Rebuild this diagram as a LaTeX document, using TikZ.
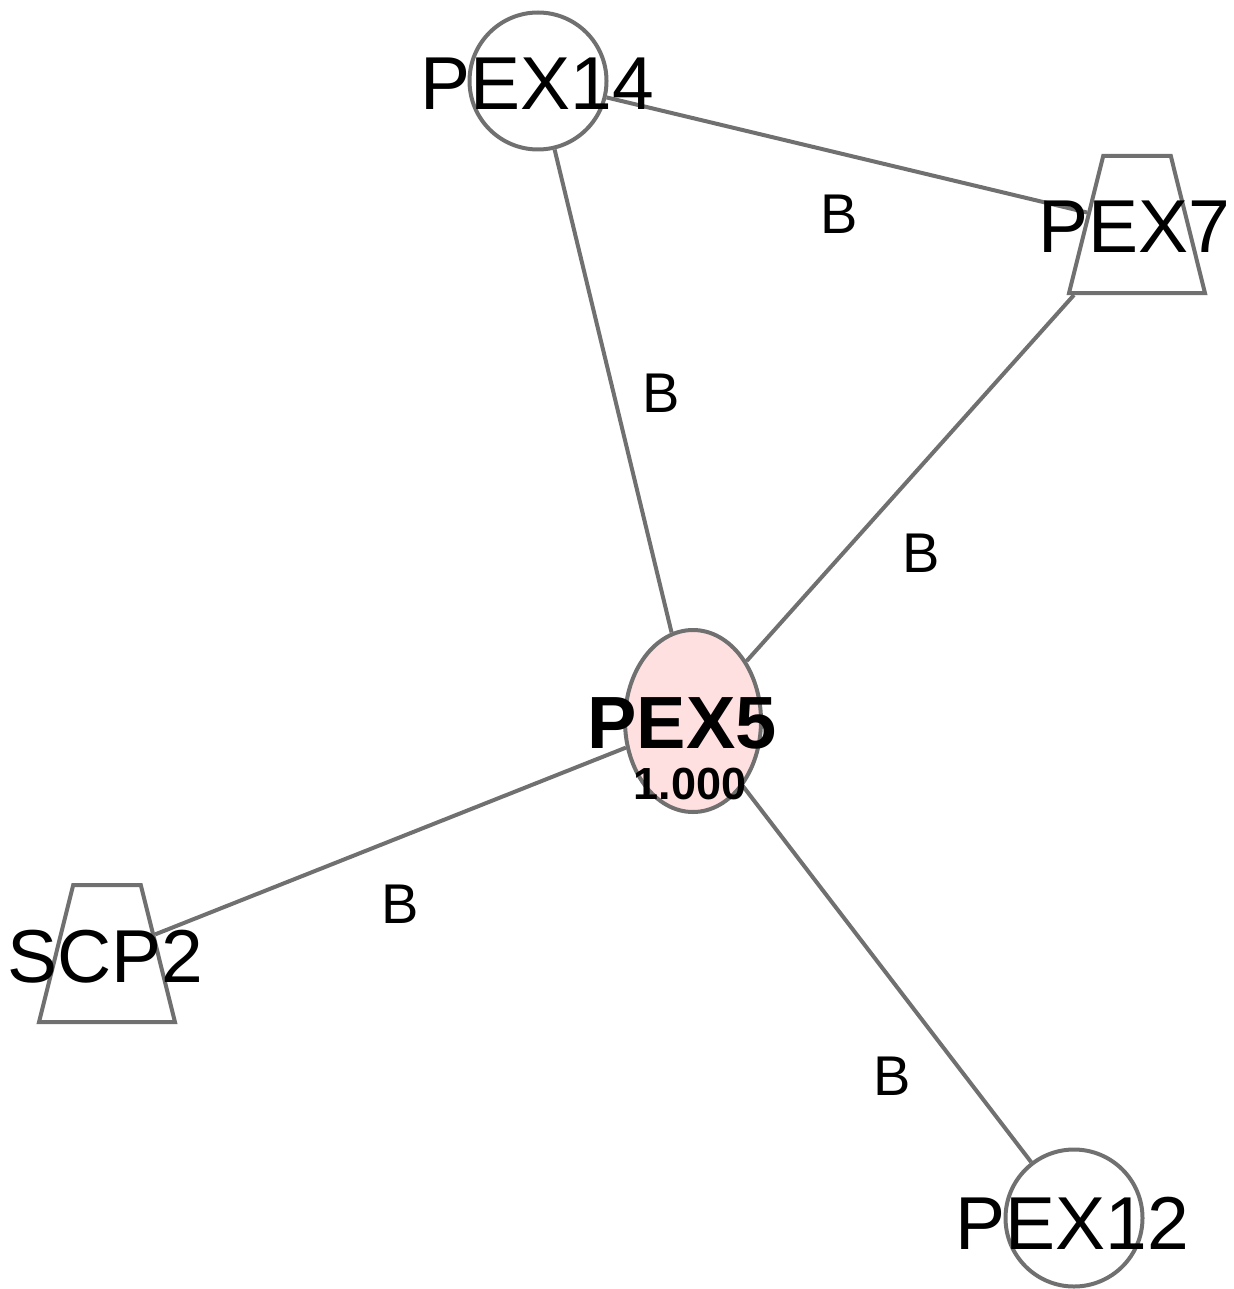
\documentclass[tikz,border=0pt]{standalone}
\usepackage{fontspec}
\setmainfont{Liberation Sans}
\usetikzlibrary{shapes.geometric}
\definecolor{linegray}{RGB}{112,112,112}
\definecolor{seedpink}{RGB}{255,224,224}
\tikzset{prot/.style={draw=linegray,line width=2pt,fill=white,inner sep=0pt},
  circ/.style={prot,circle,minimum size=68.5pt},
  trap/.style={prot,trapezium,trapezium angle=76,inner xsep=16.9pt,inner ysep=34.25pt},
  seed/.style={prot,ellipse,fill=seedpink,minimum width=68pt,minimum height=91pt},
  pname/.style={font=\fontsize{37.5}{40}\selectfont},
  elabel/.style={font=\fontsize{28}{30}\selectfont},
  link/.style={draw=linegray,line width=2pt}}
\begin{document}
\begin{tikzpicture}[x=0.5pt,y=-0.5pt] % 1 pixel = 0.5pt, y nach unten
        \useasboundingbox (0,0) rectangle (1233,1289);
        \node[circ] (pex14) at (538,81) {};
        \node[trap] (pex7) at (1137,224.5) {};
        \node[seed] (pex5) at (693,721) {};
        \node[trap] (scp2) at (107,953.5) {};
        \node[circ] (pex12) at (1074,1218) {};
        \draw[link] (pex14) -- (pex7);  % Kanten
        \draw[link] (pex14) -- (pex5);
        \draw[link] (pex7) -- (pex5);
        \draw[link] (scp2) -- (pex5);
        \draw[link] (pex5) -- (pex12);
        \node[elabel] (b-14-7) at (839,214) {B};
        \node[elabel] (b-14-5) at (661,393) {B};
        \node[elabel] (b-7-5) at (921,553) {B};
        \node[elabel] (b-2-5) at (400,904) {B};
        \node[elabel] (b-5-12) at (892,1076) {B};
        \node[pname] (pex14-t) at (537,84) {PEX14};
        \node[pname] (pex7-t) at (1134,226.5) {PEX7};
        \node[pname] (scp2-t) at (105,957) {SCP2};
        \node[pname] (pex12-t) at (1072,1223) {PEX12};
        \node[pname,font=\fontsize{37}{40}\selectfont\bfseries] (pex5-t) at (682,723.5) {PEX5};
        \node[font=\fontsize{22.5}{24}\selectfont\bfseries] (pex5-s) at (690,784) {1.000};
\end{tikzpicture}
\end{document}
